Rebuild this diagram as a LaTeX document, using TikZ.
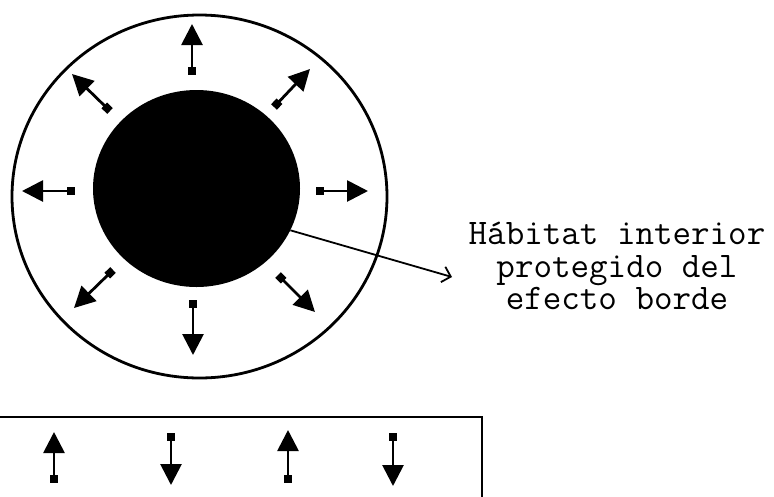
\documentclass[tikz,border=0pt]{standalone}
\usepackage{fontspec}
\usetikzlibrary{arrows.meta,shapes.geometric,positioning,calc}

\begin{document}
\begin{tikzpicture}[x=1pt, y=-1pt,
    flux/.style={line width=2.8pt, {Square[length=8pt,width=8pt]}-{Triangle[length=21pt,width=21pt]}},
    leader/.style={line width=1.8pt, -{Straight Barb[length=8pt,width=16pt]}}]
    \useasboundingbox (0,0) rectangle (774,496);
    \node[ellipse, draw, line width=2.8pt, minimum width=375pt, minimum height=363pt, inner sep=0pt] (edge) at (199.5,196.5) {};
    \node[ellipse, fill=black, minimum width=207pt, minimum height=197pt, inner sep=0pt] (core) at (196.5,188.5) {};

    % flechas hacia el borde
    \foreach \tx/\ty/\hx/\hy [count=\i] in {192/75/192/24, 274/107/310/69, 316/191/368/191, 278/275/315/312,
        193/300/193/355, 113/270/74/308, 75/191/22/191, 110/111/72/74}
    {
        \coordinate (tail\i) at (\tx,\ty);
        \coordinate (head\i) at (\hx,\hy);
        \draw[flux] (tail\i) -- (head\i);
    }

    \node[font=\ttfamily\fontsize{36}{32.5}\selectfont, align=center] (habitat) at (617,266) {Hábitat interior\\protegido del\\efecto borde};
    \coordinate (lead) at (452,277);
    \draw[leader] (core.-24) -- (lead);

    % franja inferior
    \draw[line width=2.8pt] (-5,417) -- (482,417) -- (482,501);
    \foreach \tx/\ty/\hx/\hy [count=\i] in {54/483/54/432, 171/433/171/485, 288/483/288/430, 393/433/393/486}
    {
        \coordinate (btail\i) at (\tx,\ty);
        \coordinate (bhead\i) at (\hx,\hy);
        \draw[flux] (btail\i) -- (bhead\i);
    }
\end{tikzpicture}
\end{document}
